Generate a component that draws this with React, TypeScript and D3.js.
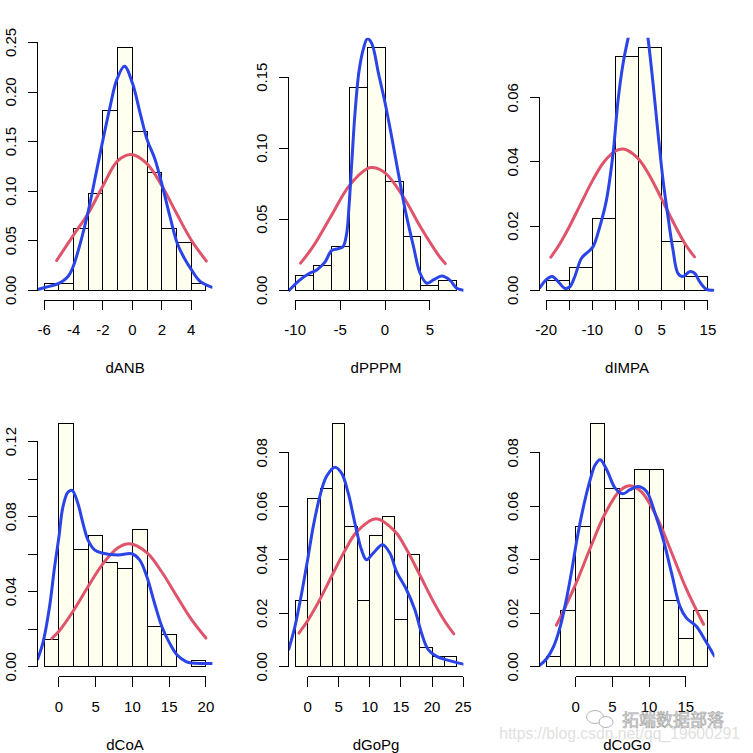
import * as d3 from "d3";

// ---- data (density scale) ----
const dANB_breaks = [-6, -5, -4, -3, -2, -1, 0, 1, 2, 3, 4, 5];
const dANB_dens = [0.0067, 0.0067, 0.0626, 0.0979, 0.1817, 0.245, 0.1605, 0.1191, 0.0626, 0.0485, 0.0067];
const dANB_kde: [number, number][] = [[-6.44, 0.0008], [-5.9, 0.003], [-5, 0.007], [-4.5, 0.012], [-4.24, 0.017], [-4, 0.025], [-3.55, 0.047], [-3, 0.08], [-2.43, 0.121], [-2, 0.152], [-1.52, 0.185], [-1.07, 0.212], [-0.54, 0.226], [0, 0.209], [0.52, 0.179], [1, 0.152], [1.54, 0.132], [2.04, 0.105], [2.56, 0.074], [3.06, 0.047], [3.58, 0.031], [4, 0.021], [4.6, 0.009], [5.44, 0.003]];
const dANB_norm: [number, number][] = [[-5.15, 0.03], [-4, 0.0558], [-3, 0.0777], [-2, 0.1055], [-1, 0.1306], [-0.06, 0.137], [1, 0.1276], [2, 0.1055], [3, 0.0777], [4, 0.0508], [5.03, 0.0295]];
const dANB_xticks = [-6, -4, -2, 0, 2, 4];
const dANB_xlabels = ["-6", "-4", "-2", "0", "2", "4"];
const dANB_yticks = [0, 0.05, 0.1, 0.15, 0.2, 0.25];
const dANB_ylabels = ["0.00", "0.05", "0.10", "0.15", "0.20", "0.25"];

const dPPPM_breaks = [-10, -8, -6, -4, -2, 0, 2, 4, 6, 8];
const dPPPM_dens = [0.0106, 0.0176, 0.031, 0.143, 0.171, 0.0768, 0.038, 0.0035, 0.007];
const dPPPM_kde: [number, number][] = [[-10.66, 0], [-9.47, 0.0073], [-8.54, 0.0115], [-7.6, 0.0143], [-6.67, 0.02], [-5.94, 0.028], [-5.01, 0.0296], [-4.64, 0.031], [-4.27, 0.04], [-4.01, 0.059], [-3.71, 0.089], [-3.34, 0.125], [-2.9, 0.154], [-2.41, 0.17], [-1.97, 0.177], [-1.49, 0.174], [-0.74, 0.153], [0, 0.132], [0.74, 0.108], [1.49, 0.082], [2.23, 0.057], [3.16, 0.031], [3.9, 0.012], [4.64, 0.005], [5.38, 0.0073], [6.31, 0.01], [7.24, 0.007], [7.98, 0.0014], [8.72, 0]];
const dPPPM_norm: [number, number][] = [[-9.4, 0.0191], [-8, 0.0309], [-6, 0.0523], [-4, 0.0735], [-2, 0.0856], [-1.37, 0.0864], [0, 0.0827], [2, 0.0662], [4, 0.044], [6, 0.0242], [6.7, 0.0188]];
const dPPPM_xticks = [-10, -5, 0, 5];
const dPPPM_xlabels = ["-10", "-5", "0", "5"];
const dPPPM_yticks = [0, 0.05, 0.1, 0.15];
const dPPPM_ylabels = ["0.00", "0.05", "0.10", "0.15"];

const dIMPA_breaks = [-20, -15, -10, -5, 0, 5, 10, 15];
const dIMPA_dens = [0.0029, 0.007, 0.0224, 0.0729, 0.0757, 0.0153, 0.0042];
const dIMPA_kde: [number, number][] = [[-21.4, 0.0007], [-19.92, 0.0034], [-18.7, 0.0043], [-17.4, 0.0027], [-15.96, 0.0006], [-14.88, 0.0011], [-13.8, 0.0043], [-12.36, 0.01], [-10.92, 0.012], [-9.84, 0.0136], [-8.4, 0.0198], [-6.96, 0.0281], [-5.52, 0.0427], [-4.44, 0.0593], [-3.36, 0.0707], [-2.28, 0.0785], [-1, 0.0865], [0.3, 0.09], [1.2, 0.0865], [2.04, 0.0785], [3.12, 0.0645], [4.2, 0.0489], [5.28, 0.0344], [6.36, 0.0229], [7.44, 0.0126], [8.52, 0.0053], [9.6, 0.0043], [11.04, 0.0058], [12.12, 0.0053], [13.2, 0.0027], [14.64, 0.0003], [16.08, 0]];
const dIMPA_norm: [number, number][] = [[-19, 0.0103], [-17, 0.0146], [-15, 0.0198], [-12.5, 0.027], [-10, 0.0341], [-7.5, 0.04], [-5, 0.0434], [-3.5, 0.044], [-2.5, 0.0437], [0, 0.0409], [2.5, 0.0354], [5, 0.0284], [7.5, 0.0212], [10, 0.0146], [12.1, 0.0104]];
const dIMPA_xticks = [-20, -15, -10, -5, 0, 5, 10, 15];
const dIMPA_xlabels = ["-20", "", "-10", "", "0", "5", "", "15"];
const dIMPA_yticks = [0, 0.02, 0.04, 0.06];
const dIMPA_ylabels = ["0.00", "0.02", "0.04", "0.06"];

const dCoA_breaks = [-2, 0, 2, 4, 6, 8, 10, 12, 14, 16, 18, 20];
const dCoA_dens = [0.0144, 0.1294, 0.0627, 0.0701, 0.0557, 0.0525, 0.0733, 0.0213, 0.0174, 0, 0.0036];
const dCoA_kde: [number, number][] = [[-2.88, 0.0042], [-2.18, 0.0126], [-1.27, 0.032], [-0.59, 0.053], [0, 0.069], [0.54, 0.085], [1.22, 0.093], [1.81, 0.094], [2.59, 0.087], [3.27, 0.0765], [3.95, 0.0676], [4.85, 0.0623], [5.99, 0.0605], [8.03, 0.0596], [9.93, 0.0602], [10.98, 0.057], [11.97, 0.048], [13, 0.034], [14, 0.0215], [15.06, 0.0126], [16.05, 0.0064], [17.3, 0.0028], [18.2, 0.002], [20.88, 0.0018]];
const dCoA_norm: [number, number][] = [[-0.95, 0.0151], [0, 0.0189], [2, 0.03], [4, 0.0429], [6, 0.055], [8, 0.0633], [9.61, 0.0655], [12, 0.0607], [14, 0.0505], [16, 0.0378], [18, 0.0254], [20, 0.0153]];
const dCoA_xticks = [0, 5, 10, 15, 20];
const dCoA_xlabels = ["0", "5", "10", "15", "20"];
const dCoA_yticks = [0, 0.02, 0.04, 0.06, 0.08, 0.1, 0.12];
const dCoA_ylabels = ["0.00", "", "0.04", "", "0.08", "", "0.12"];

const dGoPg_breaks = [-2, 0, 2, 4, 6, 8, 10, 12, 14, 16, 18, 20, 22, 24];
const dGoPg_dens = [0.0247, 0.0628, 0.0665, 0.0908, 0.0523, 0.0247, 0.049, 0.0561, 0.0176, 0.0419, 0.0071, 0.0037, 0.0037];
const dGoPg_kde: [number, number][] = [[-3.04, 0.0065], [-2.03, 0.0151], [-0.96, 0.0275], [0, 0.04], [0.91, 0.0525], [2.03, 0.0643], [3.05, 0.0712], [4.39, 0.0746], [5.46, 0.0724], [6.53, 0.0649], [7.6, 0.0537], [8.67, 0.0437], [9.48, 0.04], [10.55, 0.0425], [12.04, 0.0456], [13.22, 0.0425], [14.29, 0.0356], [15.9, 0.0288], [17.24, 0.0213], [18.31, 0.0126], [19.38, 0.0064], [20.72, 0.0039], [22.32, 0.0026], [25.04, 0.001]];
const dGoPg_norm: [number, number][] = [[-1.4, 0.0126], [0, 0.0172], [2, 0.0253], [4, 0.0345], [6, 0.0435], [8, 0.0507], [11, 0.0553], [14, 0.0507], [16, 0.0435], [18, 0.0345], [20, 0.0253], [22, 0.0172], [23.5, 0.0123]];
const dGoPg_xticks = [0, 5, 10, 15, 20, 25];
const dGoPg_xlabels = ["0", "5", "10", "15", "20", "25"];
const dGoPg_yticks = [0, 0.02, 0.04, 0.06, 0.08];
const dGoPg_ylabels = ["0.00", "0.02", "0.04", "0.06", "0.08"];

const dCoGo_breaks = [-4, -2, 0, 2, 4, 6, 8, 10, 12, 14, 16, 18];
const dCoGo_dens = [0.0037, 0.0209, 0.0523, 0.0908, 0.0665, 0.0628, 0.0736, 0.0736, 0.0247, 0.0105, 0.0209];
const dCoGo_kde: [number, number][] = [[-4.88, 0.0005], [-3.89, 0.0032], [-2.98, 0.0076], [-2.08, 0.0151], [-1.17, 0.0263], [-0.5, 0.0363], [0.18, 0.0475], [1.08, 0.06], [1.99, 0.07], [2.67, 0.0755], [3.34, 0.0774], [4.25, 0.0736], [5.38, 0.0668], [6.42, 0.0647], [7.41, 0.0662], [8.54, 0.0674], [9.67, 0.0655], [10.8, 0.0574], [11.93, 0.0475], [13.06, 0.035], [14.19, 0.0226], [15.09, 0.0182], [16.45, 0.0151], [17.58, 0.0101], [18.88, 0.004]];
const dCoGo_norm: [number, number][] = [[-2.6, 0.0156], [-2, 0.0189], [0, 0.0308], [2, 0.0444], [4, 0.0572], [6, 0.0658], [7.4, 0.0677], [9, 0.0653], [11, 0.0562], [13, 0.0431], [15, 0.0295], [17.4, 0.0159]];
const dCoGo_xticks = [0, 5, 10, 15];
const dCoGo_xlabels = ["0", "5", "10", "15"];
const dCoGo_yticks = [0, 0.02, 0.04, 0.06, 0.08];
const dCoGo_ylabels = ["0.00", "0.02", "0.04", "0.06", "0.08"];

interface PanelData {
  name: string;
  breaks: number[];
  dens: number[];
  kde: [number, number][];
  norm: [number, number][];
  xticks: number[];
  xlabels: string[];
  yticks: number[];
  ylabels: string[];
}

const panels: PanelData[] = [
  { name: "dANB", breaks: dANB_breaks, dens: dANB_dens, kde: dANB_kde, norm: dANB_norm, xticks: dANB_xticks, xlabels: dANB_xlabels, yticks: dANB_yticks, ylabels: dANB_ylabels },
  { name: "dPPPM", breaks: dPPPM_breaks, dens: dPPPM_dens, kde: dPPPM_kde, norm: dPPPM_norm, xticks: dPPPM_xticks, xlabels: dPPPM_xlabels, yticks: dPPPM_yticks, ylabels: dPPPM_ylabels },
  { name: "dIMPA", breaks: dIMPA_breaks, dens: dIMPA_dens, kde: dIMPA_kde, norm: dIMPA_norm, xticks: dIMPA_xticks, xlabels: dIMPA_xlabels, yticks: dIMPA_yticks, ylabels: dIMPA_ylabels },
  { name: "dCoA", breaks: dCoA_breaks, dens: dCoA_dens, kde: dCoA_kde, norm: dCoA_norm, xticks: dCoA_xticks, xlabels: dCoA_xlabels, yticks: dCoA_yticks, ylabels: dCoA_ylabels },
  { name: "dGoPg", breaks: dGoPg_breaks, dens: dGoPg_dens, kde: dGoPg_kde, norm: dGoPg_norm, xticks: dGoPg_xticks, xlabels: dGoPg_xlabels, yticks: dGoPg_yticks, ylabels: dGoPg_ylabels },
  { name: "dCoGo", breaks: dCoGo_breaks, dens: dCoGo_dens, kde: dCoGo_kde, norm: dCoGo_norm, xticks: dCoGo_xticks, xlabels: dCoGo_xlabels, yticks: dCoGo_yticks, ylabels: dCoGo_ylabels },
];

const W = 753, H = 753;
const CW = 251, CH = 376.5;
const ML = 37.7, PW = 174.7, MT = 37.7, PH = 262.3;
const TICK = 10;
const FONT = "'Liberation Sans', Arial, sans-serif";
const BLUE = "#2a44e8";
const RED = "#df536b";
const FILL = "#fffff0";

function Panel({ p, i }: { p: PanelData; i: number }) {
  const col = i % 3, row = Math.floor(i / 3);
  const left = col * CW + ML, top = row * CH + MT;
  const right = left + PW, bottom = top + PH;

  const b0 = p.breaks[0], bN = p.breaks[p.breaks.length - 1];
  const ext = (bN - b0) * 0.04;
  const x = d3.scaleLinear().domain([b0 - ext, bN + ext]).range([left, right]);
  const ymax = d3.max(p.dens) ?? 1;
  const y = d3.scaleLinear().domain([-0.04 * ymax, 1.04 * ymax]).range([bottom, top]);

  const line = d3.line<[number, number]>()
    .x(d => x(d[0])).y(d => y(d[1]))
    .curve(d3.curveCatmullRom.alpha(0.5));

  const clipId = `clip-${i}`;
  const yt = p.yticks, xt = p.xticks;

  return (
    <g>
      <defs>
        <clipPath id={clipId}>
          <rect x={left} y={top} width={PW} height={PH} />
        </clipPath>
      </defs>
      <g shapeRendering="crispEdges">
        {p.dens.map((d, k) => (
          <rect key={k}
            x={x(p.breaks[k])} y={y(d)}
            width={x(p.breaks[k + 1]) - x(p.breaks[k])}
            height={y(0) - y(d)}
            fill={FILL} stroke="#000" strokeWidth={1} />
        ))}
      </g>
      <g clipPath={`url(#${clipId})`} fill="none" strokeLinejoin="round" strokeLinecap="round">
        <path d={line(p.norm) ?? ""} stroke={RED} strokeWidth={3} />
        <path d={line(p.kde) ?? ""} stroke={BLUE} strokeWidth={3} />
      </g>
      {/* axes */}
      <g stroke="#000" strokeWidth={1} shapeRendering="crispEdges">
        <line x1={left} x2={left} y1={y(yt[0])} y2={y(yt[yt.length - 1])} />
        {yt.map((t, k) => <line key={k} x1={left - TICK} x2={left} y1={y(t)} y2={y(t)} />)}
        <line x1={x(xt[0])} x2={x(xt[xt.length - 1])} y1={bottom} y2={bottom} />
        {xt.map((t, k) => <line key={k} x1={x(t)} x2={x(t)} y1={bottom} y2={bottom + TICK} />)}
      </g>
      <g fontFamily={FONT} fontSize={15} fill="#000">
        {yt.map((t, k) => p.ylabels[k] ? (
          <text key={k} transform={`translate(${left - 21.6},${y(t)}) rotate(-90)`} textAnchor="middle">
            {p.ylabels[k]}
          </text>
        ) : null)}
        {xt.map((t, k) => p.xlabels[k] ? (
          <text key={k} x={x(t)} y={bottom + 35} textAnchor="middle">{p.xlabels[k]}</text>
        ) : null)}
        <text x={(left + right) / 2} y={bottom + 73} textAnchor="middle">{p.name}</text>
      </g>
    </g>
  );
}

export default function App() {
  return (
    <svg width={W} height={H} style={{ position: "absolute", left: 0, top: 0, background: "#fff" }}>
      <rect width={W} height={H} fill="#fff" />
      {panels.map((p, i) => <Panel key={p.name} p={p} i={i} />)}
      {/* watermark */}
      <g opacity={0.75}>
        <text x={740} y={739} textAnchor="end" fontFamily={FONT} fontSize={15.7} fill="#d6d6d6">
          https://blog.csdn.net/qq_19600291
        </text>
        <ellipse cx={595} cy={717} rx={8.5} ry={6.5} fill="none" stroke="#9a9a9a" strokeWidth={1} />
        <ellipse cx={606} cy={722} rx={7} ry={5.5} fill="#fff" stroke="#9a9a9a" strokeWidth={1} />
        <text x={622} y={725.5} fontFamily="'Noto Sans CJK SC', sans-serif" fontSize={17}
          fill="#e6e6e6" stroke="#8c8c8c" strokeWidth={0.7}>
          拓端数据部落
        </text>
      </g>
    </svg>
  );
}
